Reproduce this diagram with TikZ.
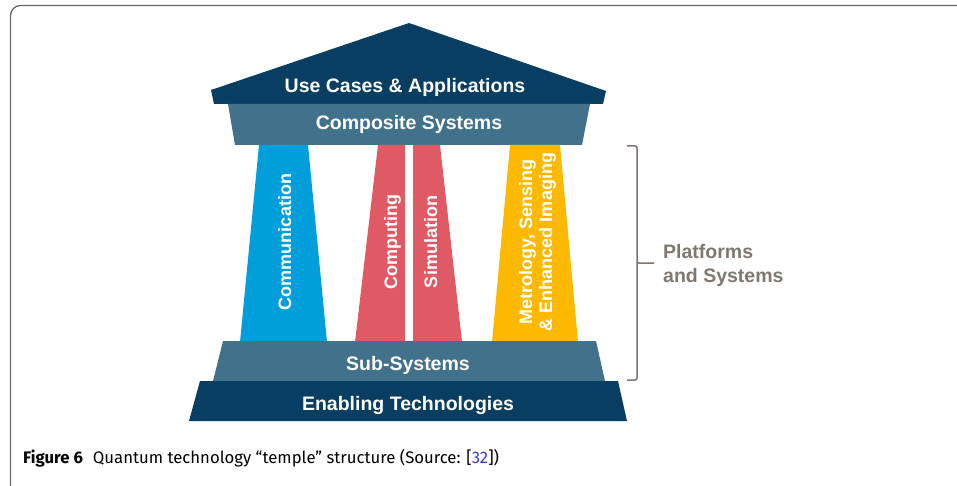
\documentclass[tikz,border=0pt]{standalone}
\usepackage{fontspec}
\setmainfont{Liberation Sans}
\newfontfamily\capfont{Fira Sans}
\usepackage{tikz}
\usetikzlibrary{backgrounds}
\definecolor{navy}{RGB}{8,62,98}
\definecolor{steel}{RGB}{66,114,139}
\definecolor{commblue}{RGB}{0,158,219}
\definecolor{comprose}{RGB}{223,90,100}
\definecolor{metroyellow}{RGB}{252,185,0}
\definecolor{bracegray}{RGB}{125,117,112}
\definecolor{platgray}{RGB}{128,119,112}
\definecolor{refblue}{RGB}{52,62,205}
\tikzstyle{temple}=[x=1pt, y=-1pt, font=\bfseries]
\tikzstyle{band}=[inner sep=0pt, anchor=base, text=white, font=\fontsize{19.5}{22}\selectfont\bfseries]
\tikzstyle{col}=[inner sep=0pt, anchor=base, rotate=90, text=white, font=\fontsize{18}{20}\selectfont\bfseries]
\tikzstyle{plat}=[inner sep=0pt, anchor=base west, text=platgray, font=\fontsize{19.5}{24}\selectfont\bfseries]
\tikzstyle{brace}=[draw=bracegray, line width=1.5pt, rounded corners=2pt]
\tikzstyle{frame}=[draw=black!60, line width=1.3pt, rounded corners=10pt]
\tikzstyle{captext}=[inner sep=0pt, anchor=base west, font=\capfont\fontsize{16.7}{19}\selectfont]
\begin{document}
\begin{tikzpicture}[temple]
\useasboundingbox (0,0) rectangle (957,486);
\draw[frame] (10.5,5.5) rectangle (975,496);

%The roof
\fill[navy] (211,90) -- (409,23) -- (606,91) -- (603,104) -- (214,104) -- cycle;
\node[band] (usecases) at (405,93) {Use Cases \& Applications};
\fill[steel] (228,104) -- (590,104) -- (582,145) -- (235,145) -- cycle;
\node[band] (composite) at (409,130) {Composite Systems};

%The pillars
\fill[commblue] (259,145) -- (308,145) -- (327,342) -- (240,342) -- cycle;
\fill[comprose] (378,145) -- (405,145) -- (405,342) -- (355,342) -- cycle;
\fill[comprose] (413,145) -- (440,145) -- (462,342) -- (413,342) -- cycle;
\fill[metroyellow] (510,145) -- (560,145) -- (578,342) -- (492,342) -- cycle;
\node[col] (comm) at (291,242) {Communication};
\node[col] (comp) at (397,242) {Computing};
\node[col] (sim) at (437,242) {Simulation};
\node[col] (metro1) at (532,242) {Metrology, Sensing};
\node[col] (metro2) at (552,242) {\& Enhanced Imaging};

%The base
\fill[steel] (223,341) -- (596,341) -- (605,381) -- (213,381) -- cycle;
\node[band] (subsys) at (408,370) {Sub-Systems};
\fill[navy] (200,381) -- (618,381) -- (627,421) -- (189,421) -- cycle;
\node[band] (enabling) at (408,410) {Enabling Technologies};

%The brace on the right
\coordinate (bracetip) at (654,263);
\draw[brace] (627,146) -- (637,146) -- (637,263) -- (bracetip);
\draw[brace] (637,262) -- (637,380) -- (627,380);
\node[plat] (plat1) at (663,258) {Platforms};
\node[plat] (plat2) at (663,282) {and Systems};

\node[captext] (caption) at (23,463) {\textbf{Figure 6}\hspace{0.6em}Quantum technology “temple” structure (Source: [\textcolor{refblue}{32}])};
\end{tikzpicture}
\end{document}
